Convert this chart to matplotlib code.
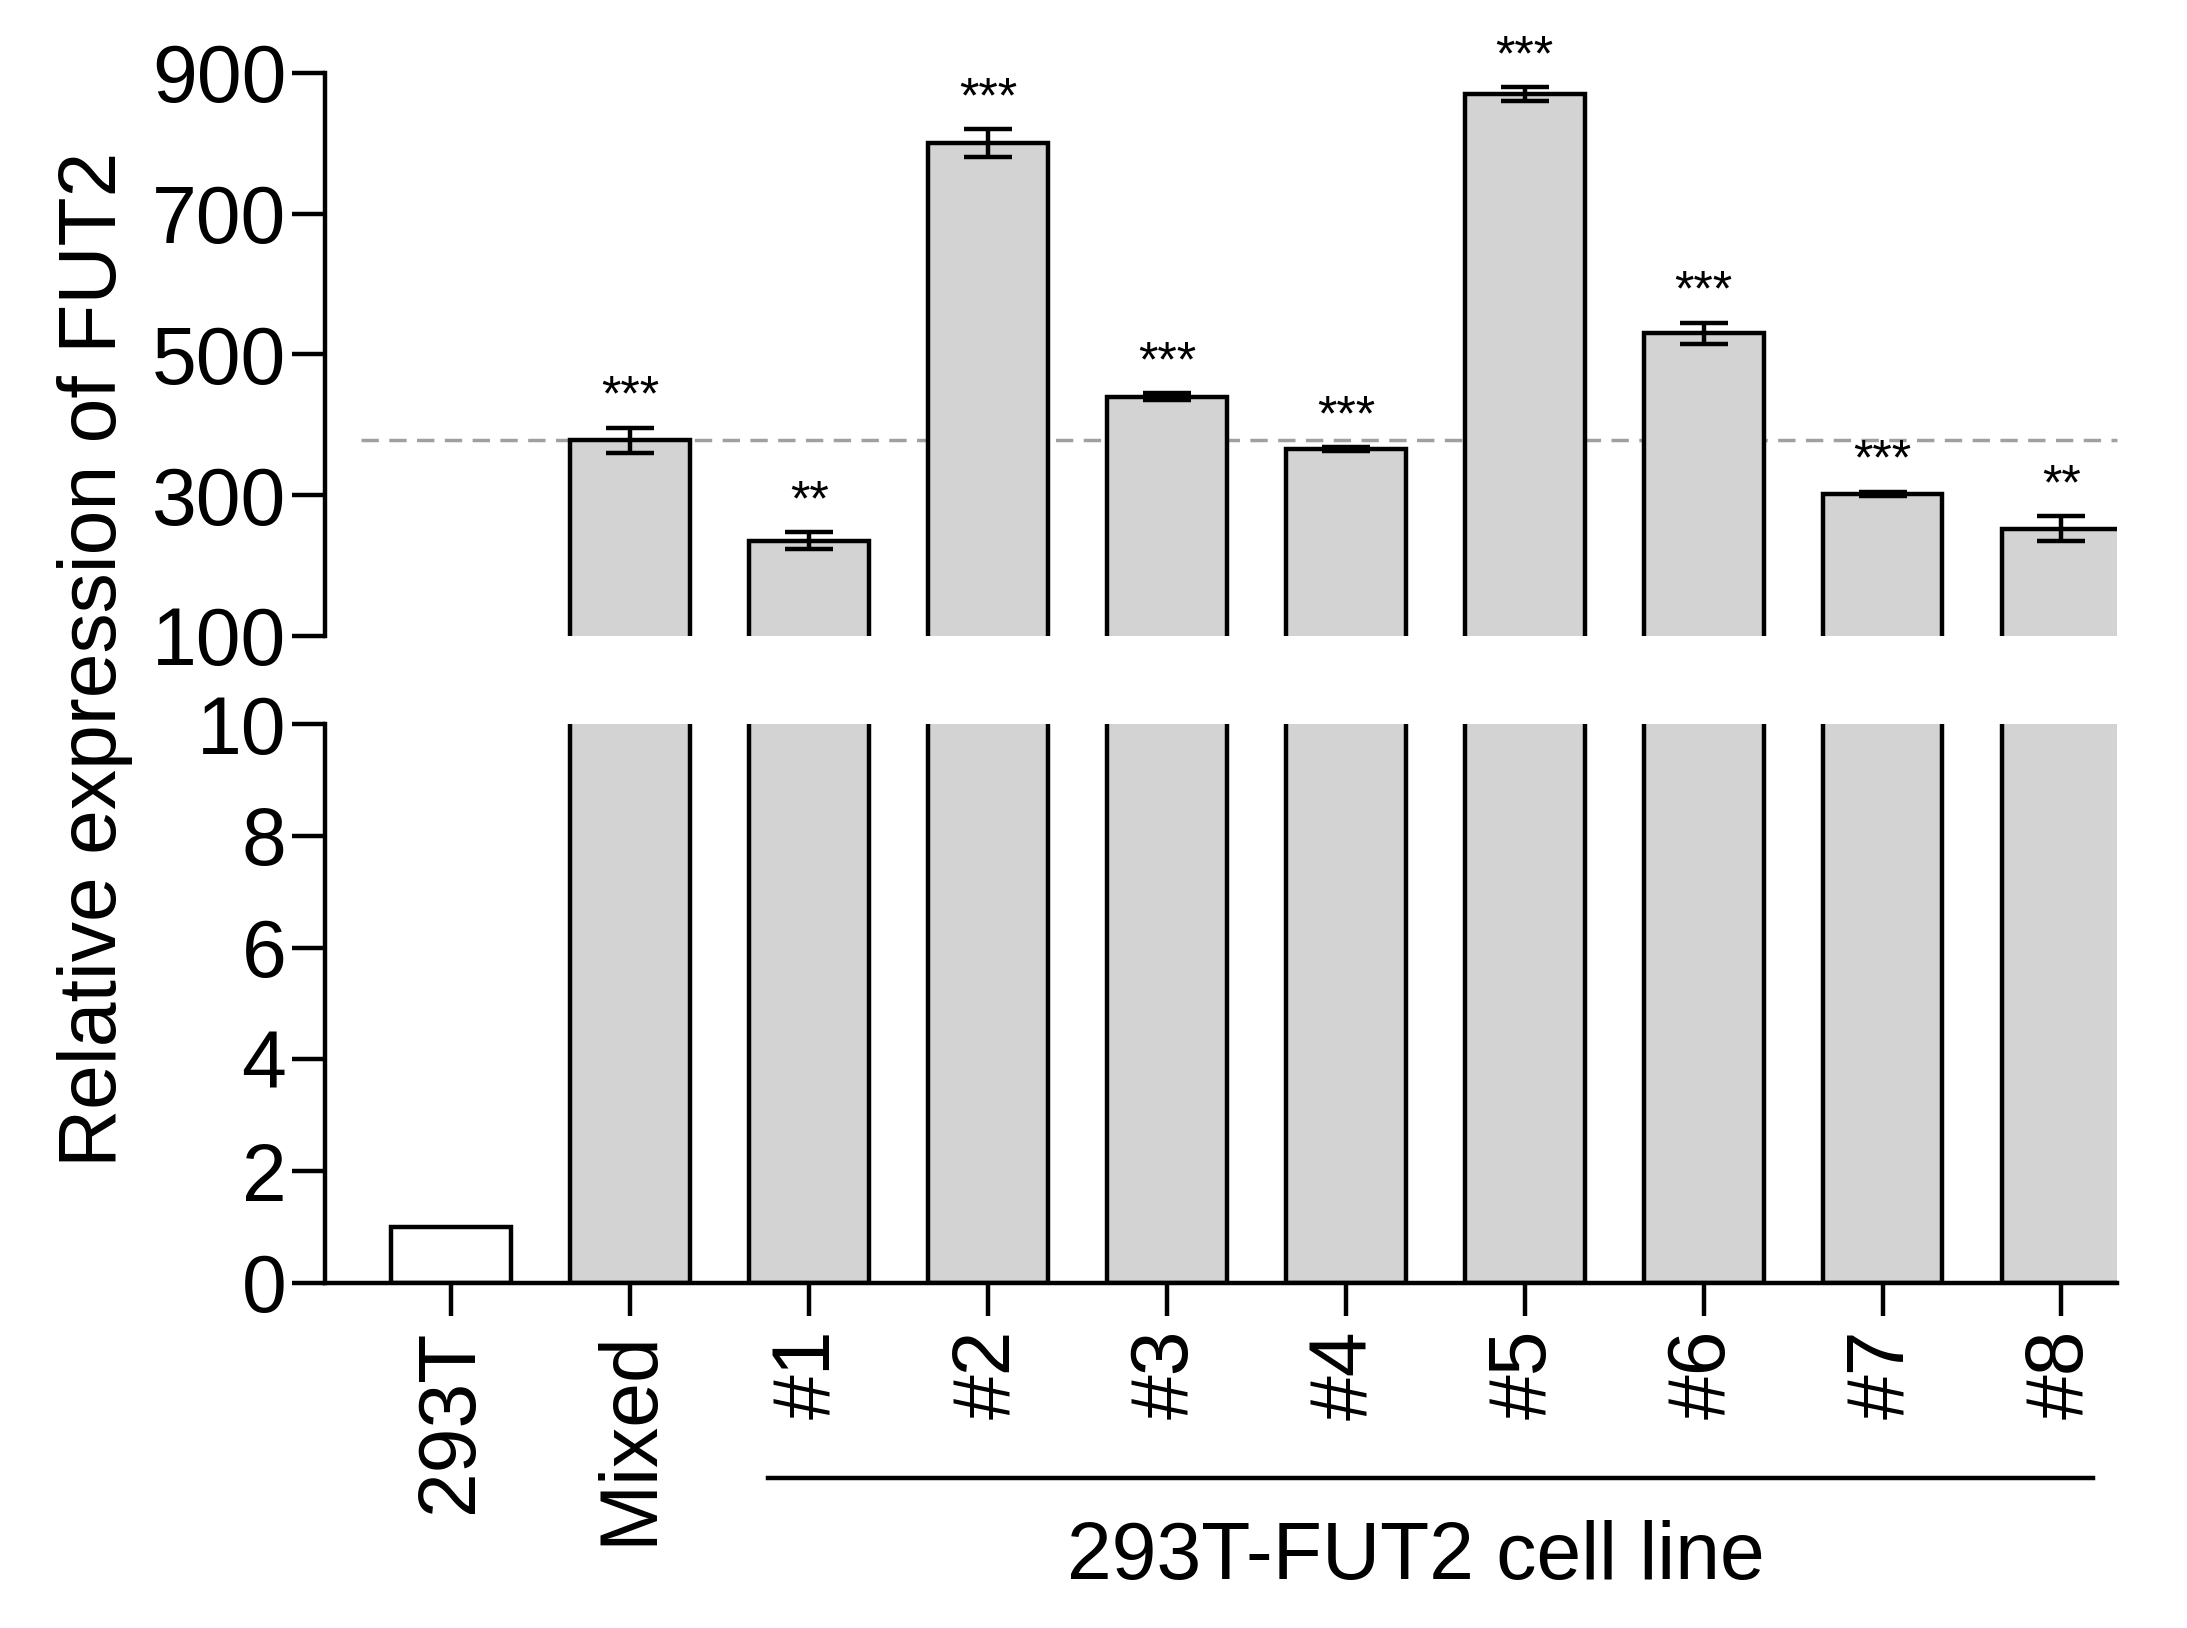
import matplotlib
matplotlib.use("Agg")
import matplotlib.pyplot as plt
import numpy as np

categories = ["293T", "Mixed", "#1", "#2", "#3", "#4", "#5", "#6", "#7", "#8"]
values = [1, 378, 235, 800, 440, 365, 870, 530, 302, 252]
errors = [0, 18, 12, 20, 5, 3, 10, 15, 3, 18]
stars = ["", "***", "**", "***", "***", "***", "***", "***", "***", "**"]
ref_line = 378

plt.rcParams["font.family"] = "Liberation Sans"
fig = plt.figure(figsize=(21.87, 16.28), dpi=100)
W, H = 1560, 1160
def fx(px): return px / W
def fy(py): return 1 - py / H

x = np.arange(len(categories))
xlim = (-0.705, 9.31)
colors = ["white"] + ["#d3d3d3"] * (len(categories) - 1)
lw = 3.2
fs = 58

axt = fig.add_axes([fx(232), fy(453), fx(1510) - fx(232), fy(52) - fy(453)])
axb = fig.add_axes([fx(232), fy(914), fx(1510) - fx(232), fy(516) - fy(914)])

for ax in (axt, axb):
    ax.bar(x, values, width=0.67, color=colors, edgecolor="black", linewidth=lw, zorder=2)
    ax.set_xlim(*xlim)
    for s in ("top", "right"):
        ax.spines[s].set_visible(False)
    ax.spines["left"].set_linewidth(lw)
    ax.tick_params(axis="y", labelsize=fs, width=lw, length=24, pad=4)

axt.errorbar(x[1:], values[1:], yerr=errors[1:], fmt="none", ecolor="black",
             elinewidth=lw, capsize=17, capthick=lw, zorder=3)
axt.set_ylim(100, 900)
axt.set_yticks([100, 300, 500, 700, 900])
axt.spines["bottom"].set_visible(False)
axt.set_xticks([])
axt.axhline(ref_line, color="#a0a0a0", ls=(0, (5, 3)), lw=2.5, zorder=1, clip_on=False,
            xmin=0.02, xmax=1.0)
for xi, v, e, s in zip(x, values, errors, stars):
    if s:
        axt.text(xi, v + e + 10, s, ha="center", va="bottom", fontsize=36)

axb.set_ylim(0, 10)
axb.set_yticks([0, 2, 4, 6, 8, 10])
axb.spines["bottom"].set_linewidth(lw)
axb.set_xticks(x)
axb.set_xticklabels(categories, rotation=90, fontsize=fs)
axb.tick_params(axis="x", width=lw, length=24, pad=10)

fig.text(fx(68), fy(470), "Relative expression of FUT2", rotation=90,
         fontsize=fs, ha="center", va="center")

fig.add_artist(plt.Line2D([fx(548), fx(1493)], [fy(1053), fy(1053)], color="black", lw=lw))
fig.text(fx(1010), fy(1110), "293T-FUT2 cell line", fontsize=fs, ha="center", va="center")

fig.savefig("out.png", dpi=100)
